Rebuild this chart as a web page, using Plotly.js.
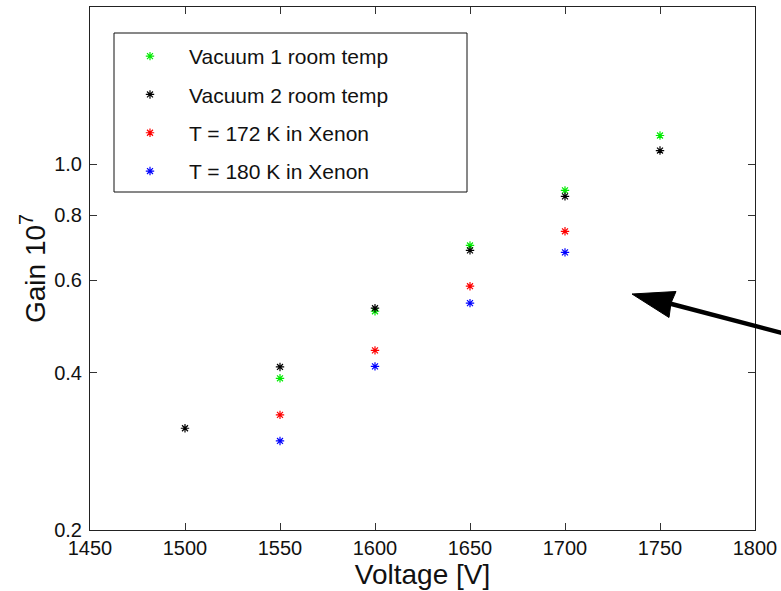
<!DOCTYPE html>
<html>
<head>
<meta charset="utf-8">
<script src="https://cdn.plot.ly/plotly-3.0.1.min.js"></script>
<style>html,body{margin:0;padding:0;background:#fff;}</style>
</head>
<body>
<div id="chart" style="width:781px;height:591px;"></div>
<script>
// ---- data ----
const seriesNames = ["Vacuum 1 room temp", "Vacuum 2 room temp", "T = 172 K in Xenon", "T = 180 K in Xenon"];
const vac1Voltage = [1550, 1600, 1650, 1700, 1750];
const vac1Gain    = [0.390, 0.524, 0.700, 0.892, 1.136];
const vac2Voltage = [1500, 1550, 1600, 1650, 1700, 1750];
const vac2Gain    = [0.313, 0.410, 0.531, 0.685, 0.869, 1.063];
const t172Voltage = [1550, 1600, 1650, 1700];
const t172Gain    = [0.332, 0.441, 0.585, 0.745];
const t180Voltage = [1550, 1600, 1650, 1700];
const t180Gain    = [0.296, 0.411, 0.543, 0.679];
const xTickVals = [1450, 1500, 1550, 1600, 1650, 1700, 1750, 1800];
const yTickVals = [0.2, 0.4, 0.6, 0.8, 1.0];
const yTickText = ["0.2", "0.4", "0.6", "0.8", "1.0"];

const colors = ["rgb(0,235,0)", "rgb(0,0,0)", "rgb(255,0,0)", "rgb(0,0,255)"];
const xs = [vac1Voltage, vac2Voltage, t172Voltage, t180Voltage];
const ys = [vac1Gain, vac2Gain, t172Gain, t180Gain];

const traces = seriesNames.map((name, i) => ({
  type: "scatter",
  mode: "markers",
  name: name,
  legendgroup: "g" + i,
  x: xs[i],
  y: ys[i],
  marker: {symbol: "asterisk-open", size: 7, color: colors[i], line: {color: colors[i], width: 1.2}}
}));

// plot area in pixels: left 90, right 755, top 7, bottom 530
const L = 90, R = 755, T = 7, B = 530;
const px = v => (v - L) / (R - L);
const py = v => (B - v) / (B - T);

const font = "Liberation Sans, Arial, Helvetica, sans-serif";

const layout = {
  width: 781, height: 591,
  margin: {l: L, r: 781 - R, t: T, b: 591 - B, pad: 0},
  paper_bgcolor: "#fff", plot_bgcolor: "#fff",
  font: {family: font, color: "#111"},
  showlegend: true,
  legend: {
    x: px(111), y: py(36), xanchor: "left", yanchor: "top",
    bgcolor: "rgba(0,0,0,0)", borderwidth: 0,
    font: {family: font, size: 21, color: "#111"},
    itemwidth: 68, traceorder: "grouped", tracegroupgap: 8
  },
  xaxis: {
    range: [1450, 1800], tickvals: xTickVals, ticks: "inside", ticklen: 7,
    tickcolor: "#333", showline: true, linecolor: "#222", linewidth: 1, mirror: "ticks",
    showgrid: false, zeroline: false, tickfont: {size: 20, family: font, color: "#111"},
    title: {text: "Voltage [V]", font: {size: 28, family: font, color: "#111"}, standoff: 4}
  },
  yaxis: {
    type: "log", range: [Math.log10(0.2), Math.log10(2)],
    tickvals: yTickVals, ticktext: yTickText, ticks: "inside", ticklen: 7,
    tickcolor: "#333", showline: true, linecolor: "#222", linewidth: 1, mirror: "ticks",
    showgrid: false, zeroline: false, tickfont: {size: 20, family: font, color: "#111"},
    ticklabelstandoff: 3,
    title: {text: "Gain 10<sup>7</sup>", font: {size: 28, family: font, color: "#111"}, standoff: 0}
  },
  shapes: [
    {type: "rect", xref: "paper", yref: "paper", x0: px(114), x1: px(467), y0: py(33), y1: py(192),
     line: {color: "#111", width: 1}, fillcolor: "rgba(255,255,255,0)", layer: "above"},
    {type: "line", xref: "paper", yref: "paper", x0: px(664), y0: py(302), x1: px(805), y1: py(339),
     line: {color: "#000", width: 4.5}},
    {type: "path", xref: "paper", yref: "paper",
     path: "M " + px(632) + "," + py(294) + " L " + px(676) + "," + py(291.5) +
           " L " + px(671) + "," + py(303) + " L " + px(669) + "," + py(317.5) + " Z",
     fillcolor: "#000", line: {color: "#000", width: 1}}
  ]
};

Plotly.newPlot("chart", traces, layout, {staticPlot: true, displayModeBar: false});
</script>
</body>
</html>
